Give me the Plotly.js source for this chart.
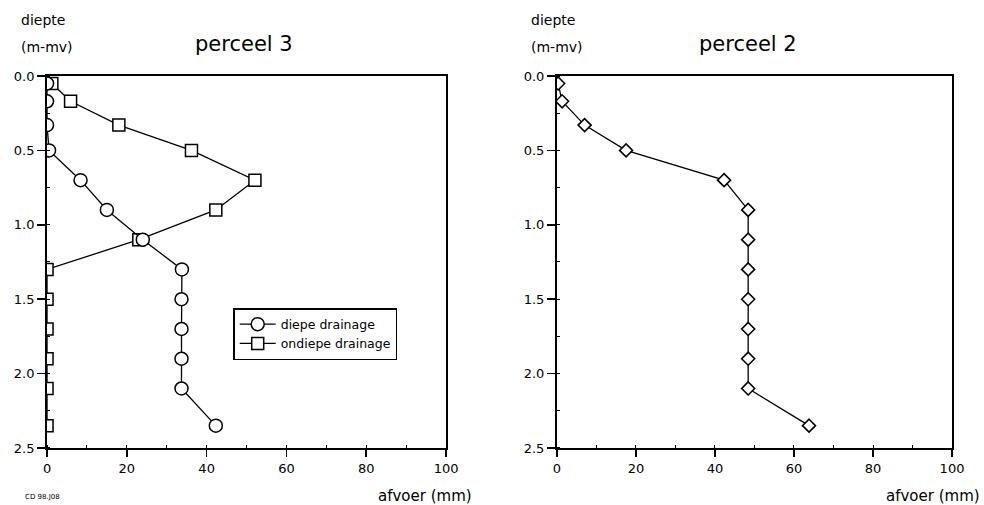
<!DOCTYPE html>
<html>
<head>
<meta charset="utf-8">
<script src="https://cdn.plot.ly/plotly-3.0.1.min.js"></script>
<style>html,body{margin:0;padding:0;background:#fff;}#chart{width:984px;height:505px;}</style>
</head>
<body>
<div id="chart"></div>
<script>
// depth below surface (m-mv)
var depth = [0.05, 0.17, 0.33, 0.5, 0.7, 0.9, 1.1, 1.3, 1.5, 1.7, 1.9, 2.1, 2.35];
// perceel 3 — afvoer (mm)
var diepeDrainage   = [0, 0, 0, 0.5, 8.4, 15.0, 24.0, 33.8, 33.7, 33.7, 33.7, 33.7, 42.3];
var ondiepeDrainage = [1.2, 5.9, 18.0, 36.2, 52.1, 42.3, 23.0, 0, 0, 0, 0, 0, 0];
// perceel 2 — afvoer (mm)
var perceel2 = [0.3, 1.3, 7.0, 17.5, 42.3, 48.4, 48.4, 48.4, 48.4, 48.4, 48.4, 48.4, 63.8];

var xTicks = [0, 20, 40, 60, 80, 100];
var yTicks = [0.0, 0.5, 1.0, 1.5, 2.0, 2.5];

var FONT = 'DejaVu Sans, Arial, Helvetica, sans-serif';

var traces = [
  {x: ondiepeDrainage, y: depth, xaxis: 'x', yaxis: 'y', mode: 'lines+markers', name: 'ondiepe drainage',
   line: {color: '#000', width: 1.3}, cliponaxis: true,
   marker: {symbol: 'square', size: 12, color: '#fff', line: {color: '#000', width: 1.5}}},
  {x: diepeDrainage, y: depth, xaxis: 'x', yaxis: 'y', mode: 'lines+markers', name: 'diepe drainage',
   line: {color: '#000', width: 1.3}, cliponaxis: true,
   marker: {symbol: 'circle', size: 13, color: '#fff', line: {color: '#000', width: 1.5}}},
  {x: perceel2, y: depth, xaxis: 'x2', yaxis: 'y2', mode: 'lines+markers', name: 'perceel 2', showlegend: false,
   line: {color: '#000', width: 1.3}, cliponaxis: true,
   marker: {symbol: 'diamond', size: 10, color: '#fff', line: {color: '#000', width: 1.6}}}
];

function xAxis(domain, anchor) {
  return {domain: domain, anchor: anchor, range: [0, 100], tickvals: xTicks, ticktext: xTicks.map(String),
    showgrid: false, zeroline: false, showline: true, linecolor: '#000', linewidth: 2, mirror: true,
    ticks: 'outside', ticklen: 7, tickwidth: 1.5, tickcolor: '#000',
    minor: {dtick: 10, ticks: 'inside', ticklen: 3, tickcolor: '#000', tickwidth: 1},
    tickfont: {family: FONT, size: 13, color: '#000'}, fixedrange: true};
}
function yAxis(domain, anchor) {
  return {domain: domain, anchor: anchor, range: [2.5, 0], tickvals: yTicks, ticktext: yTicks.map(function(v){return v.toFixed(1);}),
    showgrid: false, zeroline: false, showline: true, linecolor: '#000', linewidth: 2, mirror: true,
    ticks: 'outside', ticklen: 8, tickwidth: 1.5, tickcolor: '#000',
    minor: {dtick: 0.25, ticks: 'inside', ticklen: 3, tickcolor: '#000', tickwidth: 1},
    tickfont: {family: FONT, size: 13, color: '#000'}, fixedrange: true};
}

var yDom = [0.1129, 0.8495];
var layout = {
  width: 984, height: 505,
  margin: {l: 0, r: 0, t: 0, b: 0},
  paper_bgcolor: '#fff', plot_bgcolor: '#fff',
  font: {family: FONT, color: '#000'},
  xaxis: xAxis([0.0478, 0.4533], 'y'),
  yaxis: yAxis(yDom, 'x'),
  xaxis2: xAxis([0.566, 0.9675], 'y2'),
  yaxis2: yAxis(yDom, 'x2'),
  showlegend: true,
  legend: {x: 0.237, y: 0.39, xanchor: 'left', yanchor: 'top', bgcolor: '#fff', bordercolor: '#000', borderwidth: 1.5,
    font: {family: FONT, size: 12.5, color: '#000'}, traceorder: 'reversed', tracegroupgap: 0,
    itemwidth: 36},
  annotations: [
    {text: 'perceel 3', xref: 'paper', yref: 'paper', x: 244/984, y: 1 - 44/505, xanchor: 'center', yanchor: 'middle', showarrow: false, font: {family: FONT, size: 21}},
    {text: 'perceel 2', xref: 'paper', yref: 'paper', x: 748/984, y: 1 - 44/505, xanchor: 'center', yanchor: 'middle', showarrow: false, font: {family: FONT, size: 21}},
    {text: 'diepte', xref: 'paper', yref: 'paper', x: 19/984, y: 1 - 20/505, xanchor: 'left', yanchor: 'middle', showarrow: false, font: {family: FONT, size: 14}},
    {text: '(m-mv)', xref: 'paper', yref: 'paper', x: 19/984, y: 1 - 47/505, xanchor: 'left', yanchor: 'middle', showarrow: false, font: {family: FONT, size: 14}},
    {text: 'diepte', xref: 'paper', yref: 'paper', x: 529/984, y: 1 - 20/505, xanchor: 'left', yanchor: 'middle', showarrow: false, font: {family: FONT, size: 14}},
    {text: '(m-mv)', xref: 'paper', yref: 'paper', x: 529/984, y: 1 - 47/505, xanchor: 'left', yanchor: 'middle', showarrow: false, font: {family: FONT, size: 14}},
    {text: 'afvoer (mm)', xref: 'paper', yref: 'paper', x: 474/984, y: 1 - 496/505, xanchor: 'right', yanchor: 'middle', showarrow: false, font: {family: FONT, size: 15}},
    {text: 'afvoer (mm)', xref: 'paper', yref: 'paper', x: 982/984, y: 1 - 496/505, xanchor: 'right', yanchor: 'middle', showarrow: false, font: {family: FONT, size: 15}},
    {text: 'CD 98.J08', xref: 'paper', yref: 'paper', x: 23/984, y: 1 - 497/505, xanchor: 'left', yanchor: 'middle', showarrow: false, font: {family: FONT, size: 7}}
  ]
};

Plotly.newPlot('chart', traces, layout, {displayModeBar: false, staticPlot: true});
</script>
</body>
</html>
